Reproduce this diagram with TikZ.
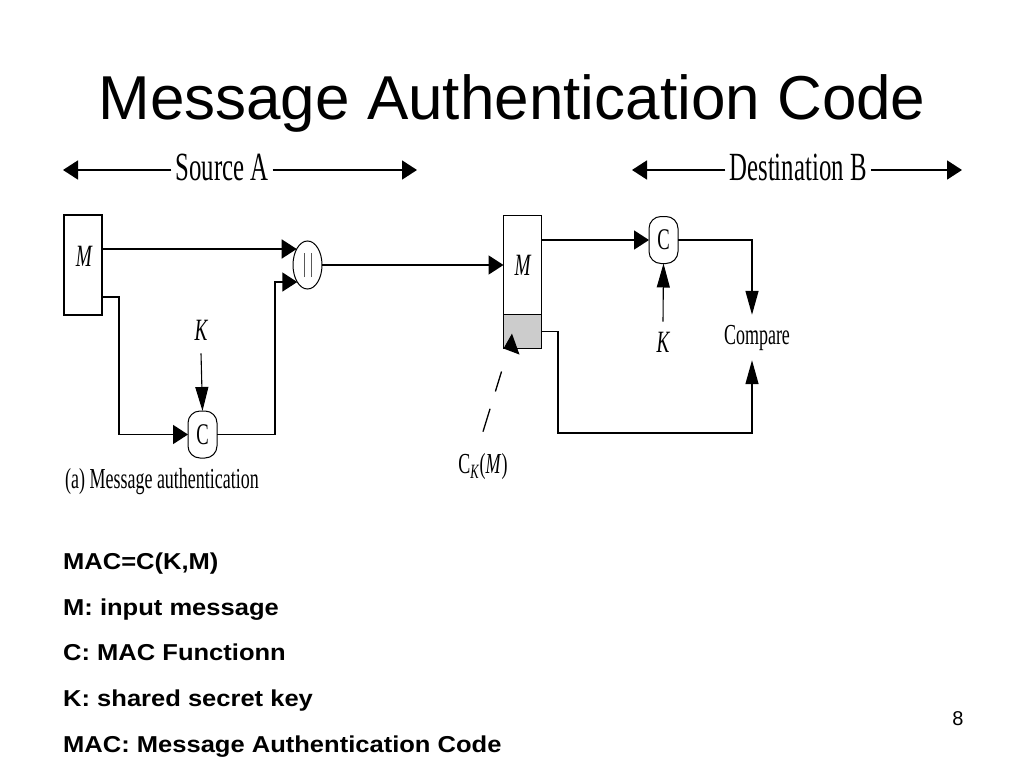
\documentclass[tikz,border=0pt]{standalone}
\usepackage{fontspec}
\usepackage{graphicx}
\setmainfont{Liberation Serif}
\setsansfont{Liberation Sans}
\usetikzlibrary{arrows.meta,shapes.geometric}
\newcommand{\narrowtxt}[1]{\scalebox{0.62}[1]{#1}}
\newcommand{\widetxt}[1]{\scalebox{1.11}[1]{#1}}
\begin{document}
\begin{tikzpicture}[x=1pt,y=-1pt,
  harr/.style={line width=1.7pt,-{Triangle[length=15pt,width=19pt]}},
  varr/.style={line width=1.4pt,-{Triangle[length=24pt,width=13pt]}},
  hdr/.style={inner xsep=4pt,inner ysep=0pt,font=\fontsize{40}{44}\selectfont},
  lbl/.style={inner sep=0pt,font=\fontsize{29}{32}\selectfont},
  ital/.style={inner sep=0pt,font=\itshape\fontsize{31}{34}\selectfont},
  box/.style={draw,line width=1.6pt,minimum width=38pt,inner sep=0pt,outer sep=0pt},
  fn/.style={draw,line width=1pt,rounded corners=12pt,minimum width=29pt,minimum height=47pt,
    inner sep=0pt,outer sep=0pt,font=\fontsize{30}{32}\selectfont},
  catnode/.style={ellipse,draw,line width=1pt,minimum width=29pt,minimum height=48pt,
    inner sep=0pt,outer sep=0pt},
  body/.style={anchor=base west,inner sep=0pt,font=\sffamily\bfseries\fontsize{23}{26}\selectfont}
]
\useasboundingbox (0,0) rectangle (1024,768);
\fill[white] (0,0) rectangle (1024,768);

% title
\node[anchor=base,inner sep=0pt,font=\sffamily\fontsize{62}{70}\selectfont] (ttl) at (512,119) {Message Authentication Code};

% headers
\node[hdr] (srcA) at (222,167) {\narrowtxt{Source A}};
\coordinate (srcL) at (63,170);
\coordinate (srcR) at (417,170);
\draw[harr] (srcA.west |- srcL) -- (srcL);
\draw[harr] (srcA.east |- srcR) -- (srcR);

\node[hdr] (dstB) at (798,167) {\narrowtxt{Destination B}};
\coordinate (dstL) at (632,170);
\coordinate (dstR) at (962,170);
\draw[harr] (dstB.west |- dstL) -- (dstL);
\draw[harr] (dstB.east |- dstR) -- (dstR);

% source side
\node[box,minimum height=100pt] (mA) at (83,265) {};
\node[ital] (mAt) at (84,256) {\narrowtxt{M}};
\node[catnode] (cat) at (307.5,265) {\textcolor{gray!70!black}{\rule{0.8pt}{24pt}\hspace{6pt}\rule{0.8pt}{24pt}}};
\node[fn] (c1) at (202.5,434.5) {\narrowtxt{C}};
\node[ital] (k1) at (201,330) {\narrowtxt{K}};
\node[lbl] (cap) at (162,482) {\narrowtxt{(a) Message authentication}};

\coordinate (j1) at (119,297);
\coordinate (j2) at (275,0);
\draw[harr] (mA.east |- cat.124) -- (cat.124);
\draw[harr] (mA.east |- j1) -- (j1) |- (c1.west);
\draw[varr,line width=1.1pt] ([yshift=-13pt]k1.south) -- (c1.north);
\draw[harr] (c1.east) -| (j2 |- cat.239) -- (cat.239);

% destination side
\node[box,minimum height=99pt,font=\itshape\fontsize{31}{34}\selectfont] (mB) at (522.5,265) {\narrowtxt{M}};
\node[box,fill=gray!40,minimum height=34pt,anchor=north] (tag) at (mB.south) {};
\node[fn] (c2) at (663.5,240) {\narrowtxt{C}};
\node[ital] (k2) at (663,342) {\narrowtxt{K}};
\node[lbl,minimum height=45pt] (cmp) at (757,337.5) {\narrowtxt{Compare}};
\node[lbl] (ck) at (483,467) {\narrowtxt{C\textsubscript{\textit{K}}(\textit{M})}};

\coordinate (j3) at (752,0);
\coordinate (j4) at (558,433);
\coordinate (d1) at (502,370);
\coordinate (d2) at (516,344);
\draw[harr] (cat.east) -- (mB.west);
\draw[harr] (mB.east |- c2.west) -- (c2.west);
\draw[varr] (c2.east) -| (cmp.north -| j3);
\draw[varr,line width=1.1pt] ([yshift=10pt]k2.north) -- (c2.south);
\draw[varr] (tag.east) -| (j4) -| (cmp.south -| j3);
\draw[line width=1.3pt,dash pattern=on 24pt off 18pt on 21pt off 80pt,
  -{Triangle[length=13pt,width=22pt]}]
  ([yshift=22pt]ck.north) -- (d1) -- (d2) -- (tag.south west);

% notes
\node[body] (t1) at (63,569) {\widetxt{MAC=C(K,M)}};
\node[body] (t2) at (63,615) {\widetxt{M: input message}};
\node[body] (t3) at (63,660) {\widetxt{C: MAC Functionn}};
\node[body] (t4) at (63,706) {\widetxt{K: shared secret key}};
\node[body] (t5) at (63,752) {\widetxt{MAC: Message Authentication Code}};
\node[anchor=base,inner sep=0pt,font=\sffamily\fontsize{20}{24}\selectfont] (pn) at (958,725) {8};
\end{tikzpicture}
\end{document}
